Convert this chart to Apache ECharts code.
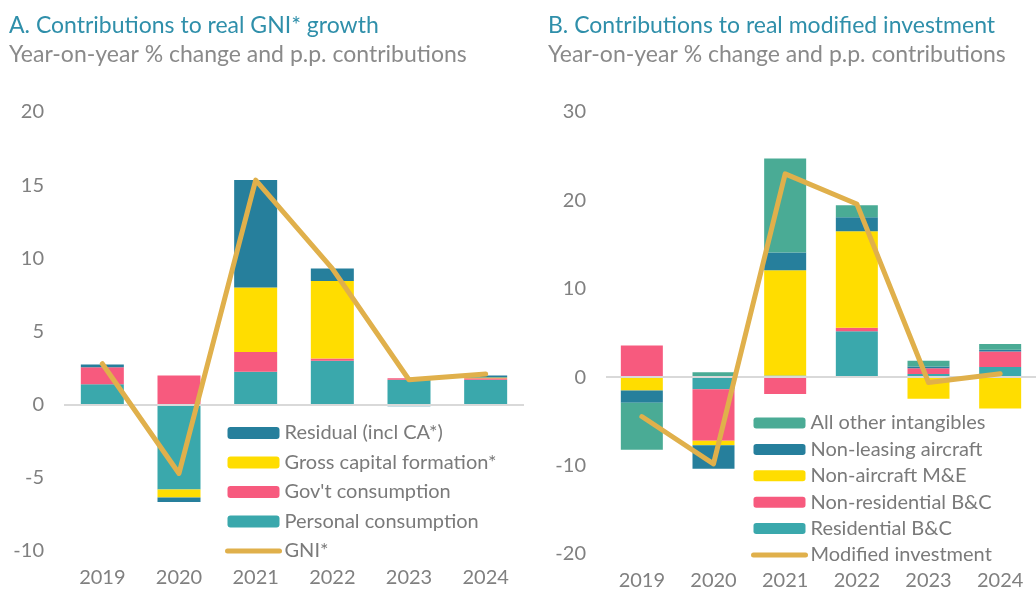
<!DOCTYPE html>
<html>
<head>
<meta charset="utf-8">
<script src="https://cdn.jsdelivr.net/npm/echarts@6/dist/echarts.min.js"></script>
<style>
  html, body { margin: 0; padding: 0; background: #fff; overflow: hidden; }
  #chart { width: 1036px; height: 592px; }
</style>
</head>
<body>
<div id="chart"></div>
<script>
// years on both panels
var years = ['2019', '2020', '2021', '2022', '2023', '2024'];

// panel A: contributions to real GNI* growth (p.p.)
var personal = [1.4, -5.8, 2.25, 3.0, 1.7, 1.7];
var govt = [1.15, 2.0, 1.35, 0.15, 0.1, 0.1];
var gcf = [0, -0.55, 4.4, 5.3, 0, 0.05];
var residual = [0.2, -0.3, 7.35, 0.85, -0.1, 0.15];
var gni = [2.8, -4.7, 15.35, 9.3, 1.7, 2.1];

// panel B: contributions to real modified investment (p.p.)
var residential = [0, -1.35, 0.2, 5.2, 0.35, 1.15];
var nonResidential = [3.6, -5.85, -1.9, 0.4, 0.65, 1.75];
var machinery = [-1.5, -0.5, 11.9, 10.9, -2.45, -3.55];
var aircraft = [-1.4, -2.65, 2.0, 1.6, 0.2, 0.2];
var intangibles = [-5.3, 0.55, 10.65, 1.35, 0.65, 0.65];
var modInvestment = [-4.45, -9.8, 23.0, 19.6, -0.6, 0.4];

var FONT = 'Lato';
var GREY = '#808080';
var TEAL = '#3aa8ac';
var PINK = '#f75a7e';
var YELLOW = '#ffdd00';
var DARK = '#267f9c';
var GREEN = '#4aab95';
var GOLD = '#e0b04b';

var chart = echarts.init(document.getElementById('chart'));

function bar(name, data, color, idx) {
    return {
        name: name, type: 'bar', stack: 's' + idx, data: data,
        xAxisIndex: idx, yAxisIndex: idx,
        barWidth: idx === 0 ? 43 : 42,
        itemStyle: { color: color },
        emphasis: { disabled: true }
    };
}

function line(name, data, idx) {
    return {
        name: name, type: 'line', data: data, z: 5,
        xAxisIndex: idx, yAxisIndex: idx,
        symbol: 'none',
        lineStyle: { color: GOLD, width: 5, cap: 'round', join: 'round' },
        itemStyle: { color: GOLD },
        emphasis: { disabled: true }
    };
}

// zero line for each panel
function zero(idx) {
    return {
        type: 'line', data: [], xAxisIndex: idx, yAxisIndex: idx, z: 1,
        markLine: {
            silent: true, symbol: 'none', label: { show: false },
            lineStyle: { color: '#d9d9d9', type: 'solid', width: 2 },
            data: [{ yAxis: 0 }]
        }
    };
}

// legend entry for the gold line: thick line, no symbol
function lineEntry(name) {
    return { name: name, itemStyle: { opacity: 0 }, lineStyle: { width: 5, cap: 'round', color: GOLD } };
}

var option = {
    animation: false,
    textStyle: { fontFamily: FONT },
    title: [
        {
            text: 'A. Contributions to real GNI* growth',
            subtext: 'Year-on-year % change and p.p. contributions',
            left: 4, top: 9, itemGap: 6,
            textStyle: { color: '#2f8faa', fontSize: 23, fontWeight: 'normal', fontFamily: FONT },
            subtextStyle: { color: '#8a8a8a', fontSize: 23, fontFamily: FONT }
        },
        {
            text: 'B. Contributions to real modified investment',
            subtext: 'Year-on-year % change and p.p. contributions',
            left: 543, top: 9, itemGap: 6,
            textStyle: { color: '#2f8faa', fontSize: 23, fontWeight: 'normal', fontFamily: FONT },
            subtextStyle: { color: '#8a8a8a', fontSize: 23, fontFamily: FONT }
        }
    ],
    legend: [
        {
            orient: 'vertical', left: 220, top: 418,
            itemWidth: 52, itemHeight: 12, itemGap: 9.5,
            textStyle: { color: '#7a7a7a', fontSize: 20, lineHeight: 20 },
            data: ['Residual (incl CA*)', 'Gross capital formation*', "Gov't consumption",
                   'Personal consumption', lineEntry('GNI*')]
        },
        {
            orient: 'vertical', left: 746, top: 408,
            itemWidth: 52, itemHeight: 11, itemGap: 6.4,
            textStyle: { color: '#7a7a7a', fontSize: 20, lineHeight: 20 },
            data: ['All other intangibles', 'Non-leasing aircraft', 'Non-aircraft M&E',
                   'Non-residential B&C', 'Residential B&C', lineEntry('Modified investment')]
        }
    ],
    grid: [
        { left: 64, right: 512, top: 112, bottom: 41 },
        { left: 606, right: -10, top: 112, bottom: 38 }
    ],
    xAxis: [0, 1].map(function (i) {
        return {
            type: 'category', data: years, gridIndex: i,
            axisLine: { show: false }, axisTick: { show: false },
            axisLabel: { color: GREY, fontSize: 20, margin: 17 }
        };
    }),
    yAxis: [
        { gridIndex: 0, min: -10, max: 20, interval: 5 },
        { gridIndex: 1, min: -20, max: 30, interval: 10 }
    ].map(function (a) {
        a.type = 'value';
        a.splitLine = { show: false };
        a.axisLine = { show: false };
        a.axisTick = { show: false };
        a.axisLabel = { color: GREY, fontSize: 20, margin: 20 };
        return a;
    }),
    series: [
        zero(0), zero(1),
        bar('Personal consumption', personal, TEAL, 0),
        bar("Gov't consumption", govt, PINK, 0),
        bar('Gross capital formation*', gcf, YELLOW, 0),
        bar('Residual (incl CA*)', residual, DARK, 0),
        line('GNI*', gni, 0),
        bar('Residential B&C', residential, TEAL, 1),
        bar('Non-residential B&C', nonResidential, PINK, 1),
        bar('Non-aircraft M&E', machinery, YELLOW, 1),
        bar('Non-leasing aircraft', aircraft, DARK, 1),
        bar('All other intangibles', intangibles, GREEN, 1),
        line('Modified investment', modInvestment, 1)
    ]
};

chart.setOption(option);
</script>
</body>
</html>
